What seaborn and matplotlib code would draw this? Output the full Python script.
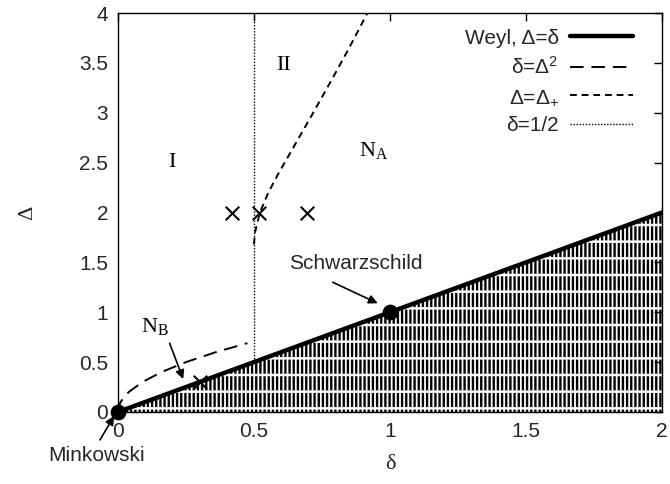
import numpy as np
import pandas as pd
import matplotlib
matplotlib.use("Agg")
import matplotlib.pyplot as plt
import seaborn as sns

# ---- data -----------------------------------------------------------
weyl_delta = [0.0, 2.0]
weyl_Delta = [0.0, 2.0]

# delta = Delta^2 branch (up to delta = 1/2)
sq_Delta = [0.0, 0.05, 0.1, 0.15, 0.2, 0.3, 0.4, 0.5, 0.6, 0.69]
sq_delta = [0.0, 0.0025, 0.01, 0.0225, 0.04, 0.09, 0.16, 0.25, 0.36, 0.476]

# Delta = Delta_+ boundary
plus_Delta = [1.68, 1.8, 2.0, 2.2, 2.4, 2.6, 2.8, 3.0, 3.2, 3.4, 3.6, 3.8, 4.0]
plus_delta = [0.500, 0.504, 0.522, 0.553, 0.592, 0.634, 0.676, 0.718,
              0.759, 0.800, 0.840, 0.879, 0.917]

# delta = 1/2 line
half_delta = [0.5, 0.5]
half_Delta = [0.5, 4.0]

cross_delta = [0.42, 0.52, 0.695, 0.30]
cross_Delta = [2.0, 2.0, 2.0, 0.30]

special_delta = [0.0, 1.0]
special_Delta = [0.0, 1.0]

x_ticks = [0, 0.5, 1, 1.5, 2]
x_ticklabels = ["0", "0.5", "1", "1.5", "2"]
y_ticks = [0, 0.5, 1, 1.5, 2, 2.5, 3, 3.5, 4]
y_ticklabels = ["0", "0.5", "1", "1.5", "2", "2.5", "3", "3.5", "4"]

# ---- style ----------------------------------------------------------
sns.set_style("white")
plt.rcParams["font.family"] = ["Liberation Sans", "DejaVu Sans"]
plt.rcParams["mathtext.fontset"] = "custom"
plt.rcParams["mathtext.rm"] = "Liberation Serif"
plt.rcParams["mathtext.sf"] = "Liberation Sans"
plt.rcParams["mathtext.it"] = "Liberation Serif:italic"

FS = 15
fig = plt.figure(figsize=(6.7, 4.84), dpi=100)
ax = fig.add_axes([0.176, 0.1488, 0.812, 0.8243])

# hatched region below the Weyl line
plt.rcParams["hatch.linewidth"] = 1.7
ax.fill_between(weyl_delta, [0, 0], weyl_Delta, facecolor="none",
                edgecolor="black", hatch="||||", linewidth=0, zorder=1)
plt.rcParams["hatch.linewidth"] = 1.8
ax.fill_between(weyl_delta, [0, 0], weyl_Delta, facecolor="none",
                edgecolor="white", hatch="-", linewidth=0, zorder=1.5)

curves = [
    (weyl_delta, weyl_Delta, r"Weyl, Δ=δ", dict(lw=3.2, ls="-")),
    (sq_delta, sq_Delta, r"δ=Δ$^\mathsf{2}$", dict(lw=1.4, ls=(0, (7, 4)))),
    (plus_delta, plus_Delta, r"Δ=Δ$_\mathsf{+}$", dict(lw=1.4, ls=(0, (3.5, 2.5)))),
    (half_delta, half_Delta, "δ=1/2", dict(lw=1.0, ls=(0, (1, 1.2)))),
]
for xs, ys, lab, kw in curves:
    df = pd.DataFrame({"delta": xs, "Delta": ys})
    sns.lineplot(data=df, x="delta", y="Delta", ax=ax, color="black",
                 label=lab, sort=False, estimator=None, zorder=3, **kw)

sns.scatterplot(x=cross_delta, y=cross_Delta, ax=ax, marker="x", s=95,
                color="black", linewidth=1.5, zorder=4, legend=False)
sns.scatterplot(x=special_delta, y=special_Delta, ax=ax, marker="o", s=110,
                color="black", edgecolor="black", zorder=5, legend=False,
                clip_on=False)

ax.set_xlim(0, 2)
ax.set_ylim(0, 4)
ax.set_xticks(x_ticks)
ax.set_xticklabels(x_ticklabels, fontsize=FS)
ax.set_yticks(y_ticks)
ax.set_yticklabels(y_ticklabels, fontsize=FS)
ax.tick_params(direction="in", length=6, width=1, top=True, right=True,
               color="black", pad=7)
for sp in ax.spines.values():
    sp.set_color("black")
    sp.set_linewidth(1.0)

ax.set_xlabel("δ", fontsize=FS + 1, family="Liberation Serif", labelpad=10)
ax.set_ylabel("Δ", fontsize=FS + 1, family="Liberation Serif", labelpad=30,
              rotation=90)

arrow = dict(arrowstyle="-|>", color="black", lw=1.2, shrinkA=0, shrinkB=0,
             mutation_scale=13)

# region labels
serif = dict(family="Liberation Serif", fontsize=FS + 1, ha="center",
             va="center", color="black")
ax.text(0.2, 2.5, "I", **serif)
ax.text(0.61, 3.47, "II", **serif)
ax.text(0.94, 2.62, r"N$_\mathrm{A}$", **serif)
ax.text(0.135, 0.86, r"N$_\mathrm{B}$", **serif)
ax.annotate("", xy=(0.24, 0.33), xytext=(0.19, 0.69), arrowprops=arrow)

ax.text(0.875, 1.49, "Schwarzschild", fontsize=FS, ha="center", va="center",
        zorder=6)
ax.annotate("", xy=(0.955, 1.09), xytext=(0.79, 1.30), arrowprops=arrow,
            zorder=6)

ax.text(-0.08, -0.44, "Minkowski", fontsize=FS, ha="center", va="center",
        clip_on=False)
ax.annotate("", xy=(-0.014, -0.04), xytext=(-0.066, -0.28),
            arrowprops=arrow, annotation_clip=False)

leg = ax.legend(loc="upper right", frameon=False, markerfirst=False,
                fontsize=FS, handlelength=3.0, handletextpad=0.55,
                labelspacing=0.45, borderaxespad=0.35,
                bbox_to_anchor=(0.975, 1.0))
for t in leg.get_texts():
    t.set_ha("right")

fig.savefig("out.png", dpi=100)
